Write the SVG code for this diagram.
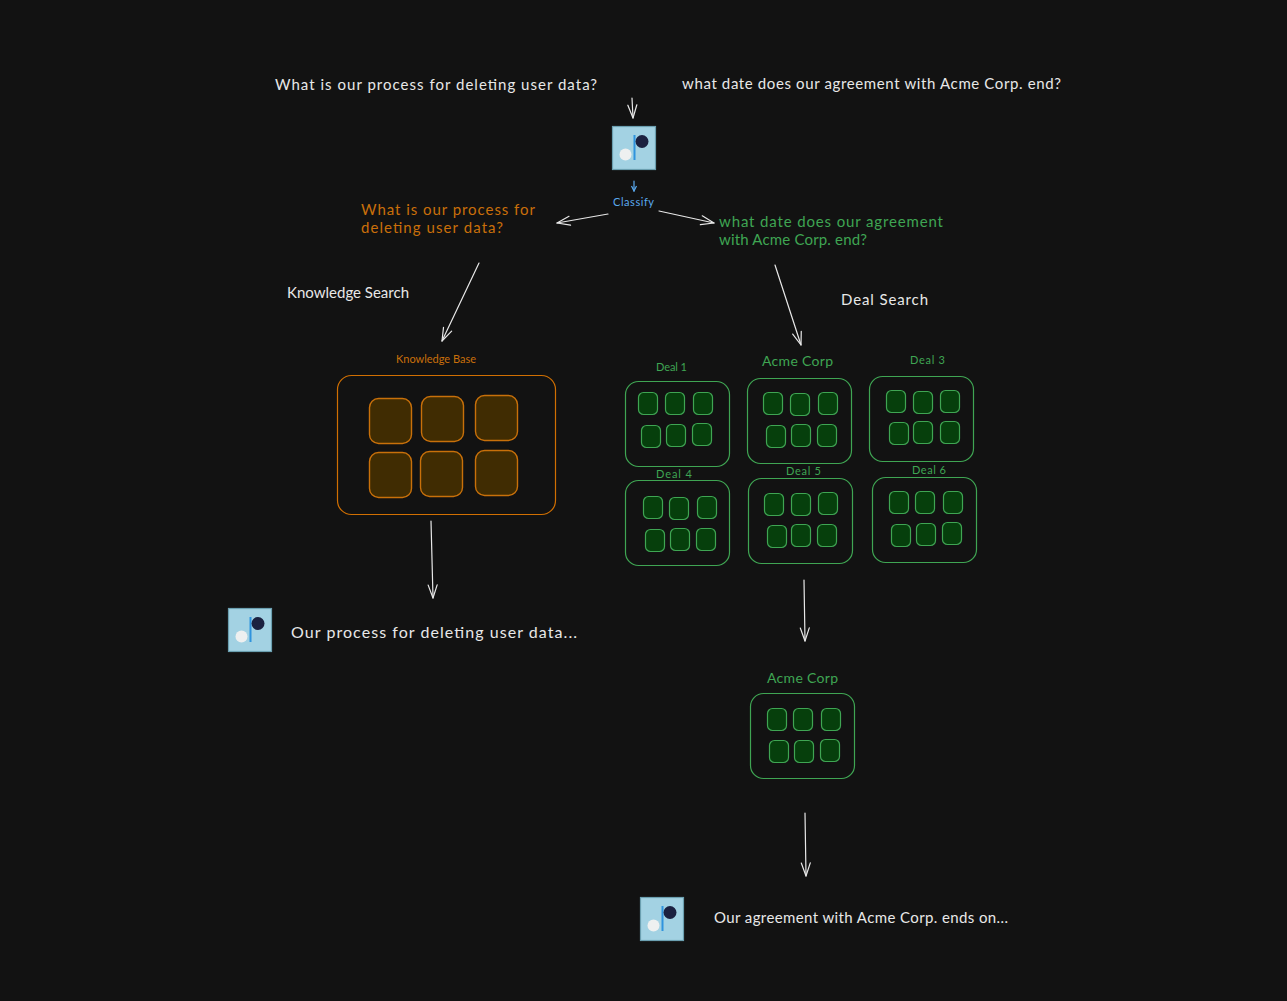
<svg xmlns="http://www.w3.org/2000/svg" width="1287" height="1001" viewBox="0 0 1287 1001">
<style>
text{font-family:"Lato","Noto Sans","Liberation Sans",sans-serif;font-size:15px;fill:#e8e8e8}
.o text,text.o{fill:#c96f0a}
.g text,text.g{fill:#3fa553}
text.b{fill:#5aa9ee}
.s{font-size:11px}
.k{font-size:14px}
.w{font-size:16px}
rect{stroke-width:1.2}
.o .out{fill:none;stroke:#d06f02;rx:14px;transform:translate(.5px,.5px)}
.o .in{fill:#402c02;stroke:#c8700a;stroke-width:1.4;width:42px;height:45px;rx:9px;transform:translate(.5px,.5px)}
.g .out{fill:none;stroke:#3fa553;width:104px;height:85px;rx:13px;transform:translate(.5px,.5px)}
.g .in{fill:#063f0c;stroke:#3fa553;width:19px;height:22px;rx:5px;transform:translate(.5px,.5px)}
.c path{fill:none;stroke:#e8e8e8;stroke-width:1.2;stroke-linecap:round}
.c path.bl{stroke:#5aa9ee}
.m{fill:none;stroke:#e8e8e8;stroke-width:1.2;stroke-linecap:round;stroke-linejoin:round}
</style>
<defs>
<marker id="a" viewBox="-14 -7 16 14" refX="0" refY="0" markerWidth="16" markerHeight="14" markerUnits="userSpaceOnUse" orient="auto"><path class="m" d="M-13 -4.500L0 0L-13 4.500"/></marker>
<marker id="ab" viewBox="-6 -4 7 8" refX="0" refY="0" markerWidth="7" markerHeight="8" markerUnits="userSpaceOnUse" orient="auto"><path d="M-5 -2.500L0 0L-5 2.500" fill="none" stroke="#5aa9ee" stroke-width="1.2"/></marker>
<g id="logo">
<rect x=".5" y=".5" width="43" height="43" fill="#a3d2e3" stroke="#6b9fb0" stroke-width="1"/>
<rect x="21.500" y="9" width="2" height="25" fill="#2f93de" stroke="none"/>
<circle cx="30" cy="15.500" r="6.500" fill="#1b2140"/>
<circle cx="13.500" cy="28.500" r="6" fill="#eef0f0"/>
</g>
</defs>
<rect width="1287" height="1001" fill="#121212" stroke="none"/>

<g id="connectors" class="c">
<path d="M632 98L633 118" marker-end="url(#a)"/>
<path class="bl" d="M634 181L634 191" marker-end="url(#ab)"/>
<path d="M608 214L557 223" marker-end="url(#a)"/>
<path d="M659 211L714 223" marker-end="url(#a)"/>
<path d="M479 263L442 341" marker-end="url(#a)"/>
<path d="M775 265L801 345" marker-end="url(#a)"/>
<path d="M431 521L433 598" marker-end="url(#a)"/>
<path d="M804 580L805 641" marker-end="url(#a)"/>
<path d="M805 813L806 876" marker-end="url(#a)"/>
</g>

<g id="q1"><text x="275" y="90" textLength="322">What is our process for deleting user data?</text></g>
<g id="q2"><text x="682" y="89" textLength="379">what date does our agreement with Acme Corp. end?</text></g>
<g id="logo-top"><use href="#logo" x="612" y="126"/></g>
<g id="classify"><text class="b s" x="613" y="206" textLength="41">Classify</text></g>
<g id="q1-orange"><text class="o" x="361" y="215" textLength="174">What is our process for</text><text class="o" x="361" y="233" textLength="142">deleting user data?</text></g>
<g id="q2-green"><text class="g" x="719" y="227" textLength="224">what date does our agreement</text><text class="g" x="719" y="245" textLength="148">with Acme Corp. end?</text></g>
<g id="knowledge-search"><text x="287" y="298" textLength="122">Knowledge Search</text></g>
<g id="deal-search"><text x="841" y="305" textLength="87">Deal Search</text></g>

<g id="knowledge-base" class="o">
<text class="s" x="396" y="363" textLength="80">Knowledge Base</text>
<rect class="out" x="337" y="375" width="218" height="139"/>
<rect class="in" x="369" y="398"/><rect class="in" x="421" y="396"/><rect class="in" x="475" y="395"/>
<rect class="in" x="369" y="452"/><rect class="in" x="420" y="451"/><rect class="in" x="475" y="450"/>
</g>

<g id="deal-1" class="g">
<text class="s" x="656" y="371" textLength="31">Deal 1</text>
<rect class="out" x="625" y="381"/>
<rect class="in" x="638" y="392"/><rect class="in" x="665" y="392"/><rect class="in" x="693" y="392"/>
<rect class="in" x="641" y="425"/><rect class="in" x="666" y="424"/><rect class="in" x="692" y="423"/>
</g>
<g id="deal-acme" class="g">
<text class="k" x="762" y="366" textLength="71">Acme Corp</text>
<rect class="out" x="747" y="378"/>
<rect class="in" x="763" y="392"/><rect class="in" x="790" y="393"/><rect class="in" x="818" y="392"/>
<rect class="in" x="766" y="425"/><rect class="in" x="791" y="424"/><rect class="in" x="817" y="424"/>
</g>
<g id="deal-3" class="g">
<text class="s" x="910" y="364" textLength="35">Deal 3</text>
<rect class="out" x="869" y="376"/>
<rect class="in" x="886" y="390"/><rect class="in" x="913" y="391"/><rect class="in" x="940" y="390"/>
<rect class="in" x="889" y="422"/><rect class="in" x="913" y="421"/><rect class="in" x="940" y="421"/>
</g>
<g id="deal-4" class="g">
<text class="s" x="656" y="478" textLength="36">Deal 4</text>
<rect class="out" x="625" y="480"/>
<rect class="in" x="643" y="496"/><rect class="in" x="669" y="497"/><rect class="in" x="697" y="496"/>
<rect class="in" x="645" y="529"/><rect class="in" x="670" y="528"/><rect class="in" x="696" y="528"/>
</g>
<g id="deal-5" class="g">
<text class="s" x="786" y="475" textLength="35">Deal 5</text>
<rect class="out" x="748" y="478"/>
<rect class="in" x="764" y="493"/><rect class="in" x="791" y="493"/><rect class="in" x="818" y="492"/>
<rect class="in" x="767" y="525"/><rect class="in" x="791" y="524"/><rect class="in" x="817" y="524"/>
</g>
<g id="deal-6" class="g">
<text class="s" x="912" y="474" textLength="34">Deal 6</text>
<rect class="out" x="872" y="477"/>
<rect class="in" x="889" y="491"/><rect class="in" x="915" y="491"/><rect class="in" x="943" y="491"/>
<rect class="in" x="891" y="524"/><rect class="in" x="916" y="523"/><rect class="in" x="942" y="522"/>
</g>
<g id="deal-acme-result" class="g">
<text class="k" x="767" y="683" textLength="71">Acme Corp</text>
<rect class="out" x="750" y="693"/>
<rect class="in" x="767" y="708"/><rect class="in" x="793" y="708"/><rect class="in" x="821" y="708"/>
<rect class="in" x="769" y="740"/><rect class="in" x="794" y="740"/><rect class="in" x="820" y="739"/>
</g>

<g id="answer-1"><use href="#logo" x="228" y="608"/><text class="w" x="291" y="638" textLength="286">Our process for deleting user data...</text></g>
<g id="answer-2"><use href="#logo" x="640" y="897"/><text x="714" y="923" textLength="294">Our agreement with Acme Corp. ends on...</text></g>
</svg>
